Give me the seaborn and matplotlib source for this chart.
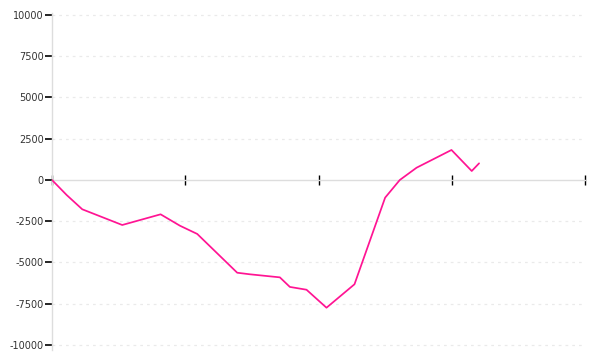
import matplotlib
matplotlib.use("Agg")
import matplotlib.pyplot as plt
import seaborn as sns
import pandas as pd

# data (x in axis units 0..4, y values)
x_vals = [0.0, 0.11, 0.227, 0.527, 0.815, 0.96, 1.09, 1.39, 1.485, 1.71, 1.785, 1.91,
          2.06, 2.27, 2.50, 2.61, 2.736, 2.998, 3.15, 3.205]
y_vals = [0, -910, -1775, -2727, -2080, -2770, -3270, -5620, -5715, -5900, -6480, -6650,
          -7740, -6320, -1070, 0, 745, 1820, 545, 1010]
y_ticks = [-10000, -7500, -5000, -2500, 0, 2500, 5000, 7500, 10000]
x_ticks = [0, 1, 2, 3, 4]

df = pd.DataFrame({"x": x_vals, "y": y_vals})

sns.set_style("white", {"xtick.bottom": True, "ytick.left": True})
plt.rcParams['font.family'] = ['DejaVu Sans']
plt.rcParams['ytick.major.size'] = 5
plt.rcParams['ytick.major.width'] = 1.2
plt.rcParams['ytick.color'] = 'black'

fig = plt.figure(figsize=(6, 3.6), dpi=100)
ax = fig.add_axes([52/600, 10/360, 533/600, 337/360])

# grid lines
for t in y_ticks:
    if t != 0:
        ax.plot([0, 3.985], [t, t], color="#eaeaea", lw=0.9, ls=(0, (2.2, 3.2)), zorder=0)

sns.lineplot(data=df, x="x", y="y", ax=ax, color="#ff1493", lw=1.25, zorder=3)

ax.set_xlim(0, 4)
ax.set_ylim(-10303, 10121)

for s in ["top", "right"]:
    ax.spines[s].set_visible(False)
ax.spines["left"].set_color("#dddddd")
ax.spines["left"].set_linewidth(1)
ax.spines["bottom"].set_position(("data", 0))
ax.spines["bottom"].set_color("#dddddd")
ax.spines["bottom"].set_linewidth(1)

ax.set_yticks(y_ticks)
ax.set_yticklabels([str(t) for t in y_ticks])
ax.set_xticks(x_ticks)
ax.set_xticklabels([])
ax.tick_params(axis="y", which="major", left=True, length=5, width=1.2, colors="black",
               direction="out", labelsize=7, pad=1)
ax.tick_params(axis="y", labelcolor="#333333")
ax.tick_params(axis="x", bottom=True, length=7, width=1, color="black", direction="inout")
ax.set_xlabel("")
ax.set_ylabel("")

fig.savefig("out.png", dpi=100, facecolor="white")
